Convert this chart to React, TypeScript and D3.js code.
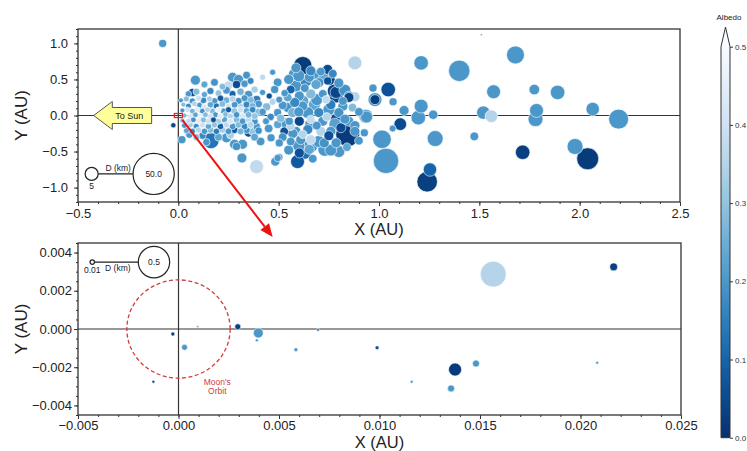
import React, { useEffect, useRef } from 'react';
import * as d3 from 'd3';

// top panel points: [x (AU), y (AU), D (km), albedo]
const outerPoints: number[][] = [
  [-0.078, 1.0, 1.9, 0.2], [0.88, 0.73, 5.7, 0.35], [1.21, 0.73, 6.2, 0.2], [1.40, 0.62, 13.4, 0.2],
  [1.51, 1.12, 0.12, 0.2], [1.68, 0.84, 9.5, 0.2], [1.046, 0.36, 6.2, 0.06], [0.97, 0.38, 1.9, 0.2],
  [0.98, 0.22, 5.7, 0.2], [0.98, 0.22, 2.9, 0.03], [1.07, 0.19, 1.9, 0.2], [1.21, 0.13, 5.7, 0.2],
  [1.125, 0.07, 2.9, 0.2], [1.196, -0.03, 6.2, 0.2], [1.27, 0.01, 2.6, 0.2], [0.935, -0.01, 5.7, 0.2],
  [1.106, -0.12, 4.7, 0.05], [1.068, -0.18, 1.4, 0.2], [1.015, -0.33, 10.1, 0.2], [1.28, -0.32, 7.5, 0.2],
  [1.035, -0.63, 18.9, 0.2], [1.254, -0.75, 5.3, 0.1], [1.24, -0.92, 12.4, 0.03], [1.571, 0.33, 5.7, 0.2],
  [1.52, 0.04, 5.3, 0.2], [1.56, -0.01, 4.7, 0.35], [1.475, -0.29, 2.2, 0.2], [1.716, -0.51, 6.2, 0.03],
  [1.774, 0.36, 3.3, 0.2], [1.89, 0.32, 6.2, 0.2], [1.785, 0.07, 5.7, 0.2], [1.78, -0.05, 6.6, 0.2],
  [2.065, 0.09, 5.3, 0.2], [2.194, -0.05, 11.7, 0.2], [1.977, -0.43, 7.5, 0.2], [2.04, -0.60, 14.2, 0.02],
];

const midCluster: number[][] = [
  [0.62, 0.69, 10.1, 0.02], [0.586, 0.66, 2.9, 0.2], [0.744, 0.64, 2.9, 0.05], [0.786, 0.27, 5.7, 0.05],
  [0.844, -0.265, 16.9, 0.02], [0.80, -0.50, 4.2, 0.2], [0.73, -0.47, 5.7, 0.2], [0.63, -0.51, 5.7, 0.12],
  [0.594, -0.64, 5.7, 0.08], [0.483, -0.64, 2.4, 0.2], [0.503, -0.58, 1.6, 0.2], [0.39, -0.71, 5.7, 0.37],
  [0.938, -0.02, 4.2, 0.2], [0.927, -0.24, 1.9, 0.2], [0.88, 0.26, 2.9, 0.35], [0.495, 0.46, 2.2, 0.2],
  [0.47, 0.6, 1.1, 0.2], [0.42, 0.53, 1.1, 0.37], [0.586, 0.41, 4.2, 0.2], [0.636, 0.48, 4.2, 0.17],
  [0.678, 0.57, 2.9, 0.2], [0.70, 0.455, 2.9, 0.19], [0.744, 0.48, 1.9, 0.06], [0.786, 0.32, 4.2, 0.04],
  [0.85, 0.27, 2.9, 0.2], [0.736, 0.22, 1.9, 0.37], [0.603, 0.27, 2.9, 0.2], [0.545, 0.25, 2.2, 0.23],
  [0.503, 0.22, 1.4, 0.2], [0.453, 0.27, 1.1, 0.06], [0.42, 0.32, 1.1, 0.2], [0.545, 0.11, 2.9, 0.19],
  [0.62, 0.13, 2.9, 0.2], [0.678, 0.15, 4.2, 0.23], [0.76, 0.15, 2.9, 0.15], [0.82, 0.13, 2.9, 0.2],
  [0.868, 0.11, 2.2, 0.28], [0.495, 0.04, 1.9, 0.2], [0.57, 0.04, 2.9, 0.26], [0.645, 0.04, 4.2, 0.2],
  [0.70, 0.04, 2.9, 0.17], [0.603, -0.08, 2.9, 0.04], [0.553, -0.08, 1.9, 0.2], [0.66, -0.055, 2.2, 0.37],
  [0.72, -0.08, 2.9, 0.2], [0.786, -0.055, 4.2, 0.05], [0.85, -0.08, 2.9, 0.2], [0.437, -0.08, 1.4, 0.2],
  [0.495, -0.125, 1.9, 0.23], [0.528, -0.22, 2.2, 0.06], [0.586, -0.22, 2.9, 0.2], [0.645, -0.195, 2.9, 0.17],
  [0.71, -0.22, 2.9, 0.35], [0.76, -0.22, 2.9, 0.2], [0.81, -0.17, 2.9, 0.05], [0.66, -0.335, 2.9, 0.37],
  [0.61, -0.335, 2.9, 0.2], [0.56, -0.36, 2.2, 0.2], [0.727, -0.38, 2.9, 0.19], [0.786, -0.38, 2.9, 0.2],
  [0.503, -0.38, 1.9, 0.2], [0.462, -0.31, 1.9, 0.2], [0.653, -0.47, 2.9, 0.23], [0.603, -0.52, 2.9, 0.06],
  [0.495, -0.59, 1.6, 0.2], [0.42, 0.05, 1.6, 0.2], [0.44, 0.12, 1.9, 0.28], [0.46, -0.02, 1.6, 0.17],
  [0.45, -0.18, 2.2, 0.2], [0.47, 0.19, 1.4, 0.35], [0.52, 0.14, 2.2, 0.2], [0.51, -0.04, 1.9, 0.28],
  [0.53, 0.31, 1.6, 0.2], [0.52, -0.30, 2.2, 0.19], [0.56, -0.15, 2.2, 0.35], [0.58, 0.18, 2.9, 0.17],
  [0.48, 0.36, 1.9, 0.2], [0.56, 0.36, 2.2, 0.1], [0.578, 0.57, 4.2, 0.2], [0.653, 0.53, 2.9, 0.2],
  [0.686, 0.43, 2.9, 0.23], [0.752, 0.50, 4.2, 0.04], [0.777, 0.34, 5.7, 0.05], [0.85, 0.25, 2.9, 0.04],
  [0.66, 0.30, 2.9, 0.28], [0.72, 0.30, 2.2, 0.2], [0.82, 0.20, 2.2, 0.2], [0.90, 0.05, 2.2, 0.2],
  [0.88, -0.14, 2.9, 0.2], [0.90, -0.35, 2.2, 0.2], [0.84, -0.44, 2.2, 0.23], [0.67, -0.60, 2.2, 0.2],
  [0.55, -0.48, 2.9, 0.2], [0.75, -0.28, 2.9, 0.06], [0.69, -0.14, 2.2, 0.2], [0.62, -0.26, 2.2, 0.35],
  [0.74, -0.02, 2.2, 0.35], [0.80, 0.04, 2.9, 0.19], [0.63, 0.38, 2.2, 0.2], [0.71, 0.61, 2.2, 0.2],
  [0.77, 0.58, 2.2, 0.17],
  [0.60, 0.55, 4.2, 0.2], [0.66, 0.62, 2.9, 0.17], [0.72, 0.53, 4.2, 0.23], [0.80, 0.45, 2.9, 0.2],
  [0.83, 0.35, 4.2, 0.19], [0.62, 0.20, 4.2, 0.23], [0.69, 0.22, 4.2, 0.2], [0.75, 0.08, 4.2, 0.2],
  [0.66, -0.12, 4.2, 0.2], [0.60, -0.42, 4.2, 0.2], [0.70, -0.36, 4.2, 0.2], [0.78, -0.12, 4.2, 0.22],
  [0.83, -0.05, 2.9, 0.2], [0.57, -0.25, 2.9, 0.2], [0.55, 0.50, 2.9, 0.2], [0.88, -0.22, 2.9, 0.2],
  [0.66, -0.42, 5.7, 0.2], [0.76, -0.48, 4.2, 0.2], [0.60, 0.05, 2.9, 0.2], [0.53, -0.10, 2.9, 0.2],
];

const innerCluster: number[][] = [
  [0.05, 0.30, 1.2, 0.2], [0.09, 0.33, 1.4, 0.28], [0.071, 0.32, 1.9, 0.05], [0.13, 0.29, 1.1, 0.23],
  [0.16, 0.34, 1.5, 0.17], [0.2, 0.31, 1.3, 0.3], [0.24, 0.35, 1.8, 0.2], [0.27, 0.30, 1.4, 0.1],
  [0.31, 0.33, 1.6, 0.26], [0.35, 0.29, 2.0, 0.2], [0.38, 0.36, 1.5, 0.33],
  [0.085, 0.49, 2.9, 0.2], [0.13, 0.43, 1.4, 0.23], [0.18, 0.46, 1.8, 0.19], [0.22, 0.40, 1.3, 0.28],
  [0.25, 0.42, 2.0, 0.37], [0.27, 0.53, 2.9, 0.2], [0.29, 0.43, 1.9, 0.05], [0.30, 0.50, 2.9, 0.2],
  [0.33, 0.44, 1.6, 0.2], [0.36, 0.48, 1.4, 0.17], [0.34, 0.56, 1.8, 0.19],
  [0.013, 0.21, 0.7, 0.2], [0.04, 0.23, 1.0, 0.28], [0.07, 0.20, 1.2, 0.19], [0.1, 0.24, 1.1, 0.4],
  [0.125, 0.21, 1.3, 0.17], [0.155, 0.23, 1.0, 0.33], [0.18, 0.20, 1.4, 0.2], [0.21, 0.24, 1.2, 0.08],
  [0.24, 0.21, 1.5, 0.26], [0.27, 0.23, 1.3, 0.35], [0.30, 0.20, 1.6, 0.19], [0.33, 0.24, 1.4, 0.2],
  [0.36, 0.21, 1.7, 0.28], [0.39, 0.22, 2.0, 0.15],
  [0.025, 0.15, 0.7, 0.28], [0.05, 0.13, 1.0, 0.17], [0.08, 0.16, 0.9, 0.35], [0.105, 0.14, 1.1, 0.2],
  [0.13, 0.12, 1.0, 0.42], [0.16, 0.15, 1.2, 0.23], [0.19, 0.13, 1.1, 0.12], [0.22, 0.16, 1.3, 0.28],
  [0.25, 0.13, 1.1, 0.4], [0.28, 0.15, 1.4, 0.2], [0.31, 0.12, 1.2, 0.33], [0.34, 0.15, 1.5, 0.17],
  [0.37, 0.13, 1.4, 0.26], [0.40, 0.16, 1.7, 0.2],
  [0.02, 0.07, 0.7, 0.2], [0.045, 0.08, 0.9, 0.4], [0.07, 0.06, 0.9, 0.26], [0.095, 0.08, 1.0, 0.44],
  [0.12, 0.06, 1.0, 0.19], [0.145, 0.08, 0.9, 0.35], [0.17, 0.06, 1.1, 0.28], [0.2, 0.08, 1.0, 0.46],
  [0.225, 0.06, 1.2, 0.2], [0.25, 0.08, 1.1, 0.08], [0.28, 0.06, 1.3, 0.3], [0.31, 0.08, 1.2, 0.4],
  [0.34, 0.06, 1.4, 0.23], [0.37, 0.08, 1.3, 0.17], [0.40, 0.05, 1.6, 0.28],
  [0.03, 0.0, 0.7, 0.28], [0.06, -0.01, 0.9, 0.42], [0.085, 0.01, 0.9, 0.23], [0.11, -0.01, 1.0, 0.46],
  [0.135, 0.01, 0.9, 0.28], [0.16, -0.01, 1.0, 0.4], [0.185, 0.01, 1.1, 0.2], [0.21, -0.01, 1.0, 0.44],
  [0.235, 0.01, 1.2, 0.28], [0.26, -0.01, 1.1, 0.35], [0.29, 0.01, 1.2, 0.19], [0.32, -0.01, 1.3, 0.42],
  [0.35, 0.01, 1.3, 0.26], [0.38, -0.01, 1.4, 0.3],
  [0.02, -0.07, 0.7, 0.26], [0.05, -0.08, 0.9, 0.37], [0.075, -0.06, 0.9, 0.19], [0.1, -0.08, 1.0, 0.44],
  [0.125, -0.06, 1.0, 0.28], [0.15, -0.08, 1.1, 0.4], [0.175, -0.06, 1.0, 0.06], [0.2, -0.08, 1.1, 0.33],
  [0.23, -0.06, 1.2, 0.23], [0.26, -0.08, 1.1, 0.42], [0.29, -0.06, 1.3, 0.28], [0.32, -0.08, 1.2, 0.2],
  [0.35, -0.06, 1.4, 0.37], [0.38, -0.08, 1.5, 0.19],
  [-0.025, -0.135, 0.8, 0.04], [0.03, -0.14, 0.9, 0.2], [0.06, -0.13, 1.0, 0.33], [0.09, -0.15, 1.1, 0.17],
  [0.12, -0.13, 1.1, 0.4], [0.15, -0.15, 1.2, 0.23], [0.18, -0.13, 1.1, 0.3], [0.21, -0.15, 1.3, 0.1],
  [0.24, -0.13, 1.2, 0.37], [0.27, -0.15, 1.4, 0.2], [0.30, -0.13, 1.3, 0.28], [0.33, -0.15, 1.5, 0.17],
  [0.36, -0.13, 1.4, 0.35], [0.39, -0.15, 1.7, 0.2],
  [0.04, -0.21, 1.0, 0.23], [0.07, -0.22, 1.1, 0.17], [0.1, -0.20, 1.1, 0.35], [0.13, -0.22, 1.2, 0.2],
  [0.16, -0.20, 1.3, 0.28], [0.19, -0.22, 1.2, 0.15], [0.22, -0.20, 1.4, 0.33], [0.25, -0.22, 1.3, 0.2],
  [0.28, -0.20, 1.5, 0.08], [0.31, -0.22, 1.4, 0.26], [0.34, -0.20, 1.6, 0.2], [0.37, -0.22, 1.8, 0.3],
  [0.40, -0.21, 1.6, 0.19],
  [0.018, -0.335, 1.9, 0.2], [0.055, -0.265, 1.6, 0.2], [0.09, -0.30, 1.4, 0.28], [0.12, -0.28, 1.6, 0.17],
  [0.163, -0.35, 7.5, 0.13], [0.2, -0.30, 1.8, 0.23], [0.24, -0.31, 2.9, 0.2], [0.28, -0.40, 2.9, 0.2],
  [0.29, -0.43, 1.9, 0.19], [0.32, -0.40, 2.9, 0.2], [0.35, -0.24, 2.2, 0.06], [0.38, -0.30, 1.8, 0.23],
  [0.317, -0.59, 2.9, 0.2], [0.41, -0.36, 2.2, 0.2], [0.26, -0.27, 1.8, 0.33], [0.14, -0.37, 1.6, 0.2],
];

// bottom panel points: [x (AU), y (AU), D (km), albedo]
const nearEarth: number[][] = [
  [-0.00028, -0.00026, 0.0081, 0.02], [0.00096, 0.00012, 0.0025, 0.22], [0.0003, -0.00096, 0.018, 0.2],
  [-0.00125, -0.00276, 0.0046, 0.05], [0.00295, 0.00012, 0.018, 0.03], [0.00397, -0.00021, 0.05, 0.2],
  [0.0039, -0.00059, 0.0046, 0.2], [0.00584, -0.00108, 0.0081, 0.2], [0.00694, -0.00004, 0.0046, 0.13],
  [0.00988, -0.00098, 0.0081, 0.07], [0.0116, -0.00276, 0.0046, 0.2], [0.01376, -0.00212, 0.086, 0.02],
  [0.0148, -0.00181, 0.025, 0.2], [0.01356, -0.00311, 0.025, 0.2], [0.01566, 0.00287, 0.34, 0.35],
  [0.02165, 0.00325, 0.032, 0.03], [0.02083, -0.00176, 0.0046, 0.2],
];

const topXTicks = [-0.5, 0, 0.5, 1.0, 1.5, 2.0, 2.5];
const topYTicks = [-1.0, -0.5, 0, 0.5, 1.0];
const botXTicks = [-0.005, 0, 0.005, 0.01, 0.015, 0.02, 0.025];
const botYTicks = [-0.004, -0.002, 0, 0.002, 0.004];
const albedoTicks = [0, 0.1, 0.2, 0.3, 0.4, 0.5];
const moonOrbit = 0.00257;

const FONT = '"Liberation Sans", Arial, sans-serif';

const App = () => {
  const svgRef = useRef<SVGSVGElement>(null);

  useEffect(() => {
    const svg = d3.select(svgRef.current);
    svg.selectAll('*').remove();

    const color = (a: number) => d3.interpolateBlues(1 - Math.min(a, 0.5) / 0.5);

    const x1 = d3.scaleLinear().domain([-0.5, 2.5]).range([78, 680]);
    const y1 = d3.scaleLinear().domain([-1.2, 1.2]).range([202, 29]);
    const r1 = d3.scaleSqrt().domain([0, 50]).range([0, 20.6]);

    const x2 = d3.scaleLinear().domain([-0.005, 0.025]).range([78, 681]);
    const y2 = d3.scaleLinear().domain([-0.0045, 0.0045]).range([415, 243]);
    const r2 = d3.scaleSqrt().domain([0, 0.5]).range([0, 15.7]);

    const panel = (x: any, y: any, r: any, pts: number[][], xt: number[], yt: number[],
      xm: number[], ym: number[], fmt: any, yPad: number, xPad: number, labelY: number) => {
      const [xl, xr] = x.range();
      const [yb, ytop] = y.range();
      const g = svg.append('g');

      // zero lines
      g.append('line').attr('x1', xl).attr('x2', xr).attr('y1', y(0)).attr('y2', y(0))
        .attr('stroke', '#333').attr('stroke-width', 1.2);
      g.append('line').attr('x1', x(0)).attr('x2', x(0)).attr('y1', yb).attr('y2', ytop)
        .attr('stroke', '#333').attr('stroke-width', 1.2);

      const sorted = pts.slice().sort((a, b) => b[2] - a[2]);
      g.append('g').selectAll('circle').data(sorted).join('circle')
        .attr('cx', d => x(d[0])).attr('cy', d => y(d[1])).attr('r', d => r(d[2]))
        .attr('fill', d => color(d[3])).attr('stroke', 'white').attr('stroke-width', 0.6);

      const styleAxis = (a: any) => {
        a.select('.domain').remove();
        a.selectAll('line').attr('stroke', '#333');
        a.selectAll('text').attr('font-family', FONT).attr('font-size', 13).attr('fill', '#222');
      };
      g.append('g').attr('transform', `translate(0,${yb})`)
        .call(d3.axisBottom(x).tickValues(xm).tickSize(2).tickFormat(() => '')).call(styleAxis);
      g.append('g').attr('transform', `translate(${xl},0)`)
        .call(d3.axisLeft(y).tickValues(ym).tickSize(2).tickFormat(() => '')).call(styleAxis);
      g.append('g').attr('transform', `translate(0,${yb})`)
        .call(d3.axisBottom(x).tickValues(xt).tickSize(4).tickPadding(xPad).tickFormat(fmt)).call(styleAxis);
      g.append('g').attr('transform', `translate(${xl},0)`)
        .call(d3.axisLeft(y).tickValues(yt).tickSize(4).tickPadding(yPad).tickFormat(fmt)).call(styleAxis);

      g.append('rect').attr('x', xl).attr('y', ytop).attr('width', xr - xl).attr('height', yb - ytop)
        .attr('fill', 'none').attr('stroke', '#333').attr('stroke-width', 1.3);

      g.append('text').attr('x', (xl + xr) / 2).attr('y', labelY).attr('text-anchor', 'middle')
        .attr('font-family', FONT).attr('font-size', 16.5).attr('fill', '#222').text('X (AU)');
      g.append('text').attr('transform', `translate(21,${(yb + ytop) / 2}) rotate(-90)`)
        .attr('text-anchor', 'middle').attr('dy', '0.35em')
        .attr('font-family', FONT).attr('font-size', 17).attr('fill', '#222').text('Y (AU)');
      return g;
    };

    const topMinorX = d3.range(-5, 26).map(i => i / 10);
    const topMinorY = d3.range(-12, 13).map(i => i / 10);
    const botMinorX = d3.range(-5, 26).map(i => i / 1000);
    const botMinorY = d3.range(-9, 10).map(i => i / 2000);

    const gTop = panel(x1, y1, r1, [...innerCluster, ...midCluster, ...outerPoints],
      topXTicks, topYTicks, topMinorX, topMinorY, d3.format('.1f'), 6, 3, 235);
    const gBot = panel(x2, y2, r2, nearEarth, botXTicks, botYTicks, botMinorX, botMinorY,
      d3.format('.3f'), 2, 2, 447.5);

    const txt = (g: any, x: number, y: number, s: string, size: number, fill = '#222') =>
      g.append('text').attr('x', x).attr('y', y).attr('text-anchor', 'middle').attr('dy', '0.35em')
        .attr('font-family', FONT).attr('font-size', size).attr('fill', fill).text(s);

    // "To Sun" arrow
    const ay = y1(0);
    const tip = x1(-0.422), neck = x1(-0.329), tail = x1(-0.133);
    gTop.append('polygon')
      .attr('points', [[tip, ay], [neck, ay - 14], [neck, ay - 8], [tail, ay - 8], [tail, ay + 8],
        [neck, ay + 8], [neck, ay + 14]].map(p => p.join(',')).join(' '))
      .attr('fill', '#ffff99').attr('stroke', '#555').attr('stroke-width', 1);
    txt(gTop, x1(-0.244), ay, 'To Sun', 9);

    // size legend, top
    const ly = y1(-0.81);
    const sx = x1(-0.432), bx = x1(-0.123);
    gTop.append('line').attr('x1', sx + r1(5)).attr('x2', bx - r1(50)).attr('y1', ly).attr('y2', ly)
      .attr('stroke', '#222').attr('stroke-width', 1.2);
    gTop.append('circle').attr('cx', sx).attr('cy', ly).attr('r', r1(5))
      .attr('fill', 'none').attr('stroke', '#222').attr('stroke-width', 1.2);
    gTop.append('circle').attr('cx', bx).attr('cy', ly).attr('r', r1(50))
      .attr('fill', 'none').attr('stroke', '#222').attr('stroke-width', 1.2);
    txt(gTop, x1(-0.30), ly - 6, 'D (km)', 8.5);
    txt(gTop, sx, ly + 12, '5', 8.5);
    txt(gTop, bx, ly, '50.0', 8.5);

    // red marker and arrow
    gTop.append('rect').attr('x', x1(-0.02)).attr('y', y1(0.028))
      .attr('width', x1(0.02) - x1(-0.02)).attr('height', y1(-0.028) - y1(0.028))
      .attr('fill', 'none').attr('stroke', '#e41a1c').attr('stroke-width', 1.2);
    const a0 = [x1(0.021), y1(-0.065)], a1 = [x1(0.47), y2.range()[1] - 6];
    const ang = Math.atan2(a1[1] - a0[1], a1[0] - a0[0]);
    const hl = 13, hw = 5.5;
    const base = [a1[0] - hl * Math.cos(ang), a1[1] - hl * Math.sin(ang)];
    svg.append('line').attr('x1', a0[0]).attr('y1', a0[1]).attr('x2', base[0]).attr('y2', base[1])
      .attr('stroke', '#ee1111').attr('stroke-width', 2);
    svg.append('polygon')
      .attr('points', [a1,
        [base[0] + hw * Math.sin(ang), base[1] - hw * Math.cos(ang)],
        [base[0] - hw * Math.sin(ang), base[1] + hw * Math.cos(ang)]].map(p => p.join(',')).join(' '))
      .attr('fill', '#ee1111');

    // size legend, bottom
    const by = y2(0.0035);
    const sx2 = x2(-0.00429), bx2 = x2(-0.00122);
    gBot.append('line').attr('x1', sx2 + r2(0.01)).attr('x2', bx2 - r2(0.5)).attr('y1', by).attr('y2', by)
      .attr('stroke', '#222').attr('stroke-width', 1.2);
    gBot.append('circle').attr('cx', sx2).attr('cy', by).attr('r', r2(0.01))
      .attr('fill', 'none').attr('stroke', '#222').attr('stroke-width', 1.2);
    gBot.append('circle').attr('cx', bx2).attr('cy', by).attr('r', r2(0.5))
      .attr('fill', 'none').attr('stroke', '#222').attr('stroke-width', 1.2);
    txt(gBot, x2(-0.00302), by + 6, 'D (km)', 8.5);
    txt(gBot, sx2, by + 8, '0.01', 8.5);
    txt(gBot, bx2, by, '0.5', 8.5);

    // Moon's orbit
    gBot.append('ellipse').attr('cx', x2(0)).attr('cy', y2(0))
      .attr('rx', x2(moonOrbit) - x2(0)).attr('ry', y2(0) - y2(moonOrbit))
      .attr('fill', 'none').attr('stroke', '#d23c3c').attr('stroke-width', 1.3)
      .attr('stroke-dasharray', '4,2.5');
    txt(gBot, x2(0.00193), y2(-0.00275), "Moon's", 8.5, '#d23c3c');
    txt(gBot, x2(0.00193), y2(-0.00325), 'Orbit', 8.5, '#d23c3c');

    // colorbar
    const cb = d3.scaleLinear().domain([0, 0.5]).range([437.7, 46.7]);
    const cbx = 721, cbw = 9;
    const grad = svg.append('defs').append('linearGradient').attr('id', 'cbgrad')
      .attr('x1', 0).attr('y1', 1).attr('x2', 0).attr('y2', 0);
    d3.range(0, 11).forEach(i => {
      grad.append('stop').attr('offset', i / 10).attr('stop-color', color(i * 0.05));
    });
    svg.append('rect').attr('x', cbx).attr('y', cb(0.5)).attr('width', cbw)
      .attr('height', cb(0) - cb(0.5)).attr('fill', 'url(#cbgrad)');
    svg.append('polygon')
      .attr('points', `${cbx},${cb(0.5)} ${cbx + cbw / 2},27 ${cbx + cbw},${cb(0.5)}`)
      .attr('fill', color(0.5));
    svg.append('path')
      .attr('d', `M${cbx},${cb(0)} L${cbx},${cb(0.5)} L${cbx + cbw / 2},27 L${cbx + cbw},${cb(0.5)} L${cbx + cbw},${cb(0)} Z`)
      .attr('fill', 'none').attr('stroke', '#333').attr('stroke-width', 1);
    const cax = svg.append('g').attr('transform', `translate(${cbx + cbw},0)`)
      .call(d3.axisRight(cb).tickValues(albedoTicks).tickSize(3).tickPadding(2).tickFormat(d3.format('.1f')));
    cax.select('.domain').remove();
    cax.selectAll('line').attr('stroke', '#333');
    cax.selectAll('text').attr('font-family', FONT).attr('font-size', 8).attr('fill', '#333');
    txt(svg, 729, 17, 'Albedo', 8);
  }, []);

  return (
    <div style={{ position: 'absolute', left: 0, top: 0, background: 'white' }}>
      <svg ref={svgRef} width={747} height={451} style={{ display: 'block' }}></svg>
    </div>
  );
};

export default App;
